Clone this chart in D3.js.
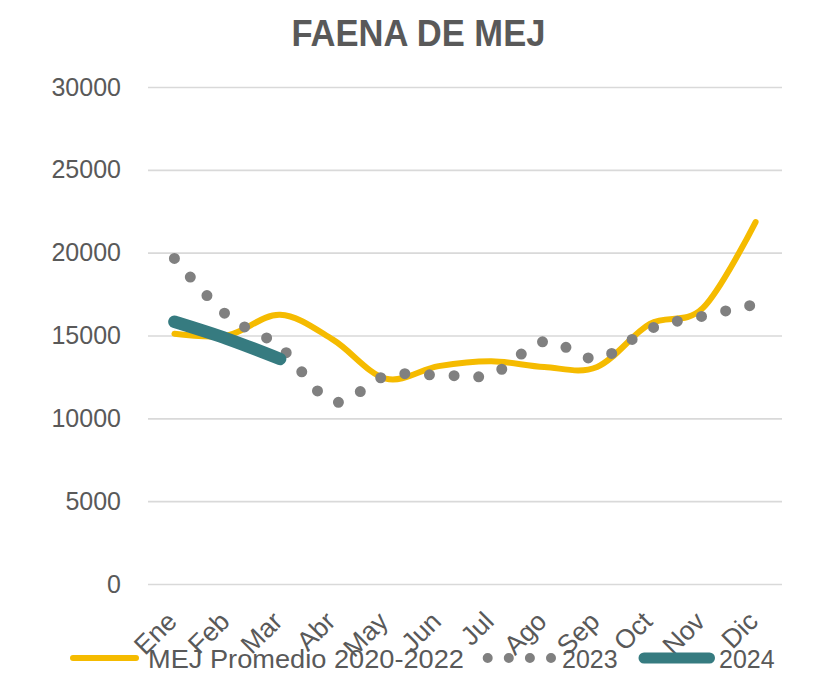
<!DOCTYPE html>
<html>
<head>
<meta charset="utf-8">
<script src="https://cdn.jsdelivr.net/npm/d3@7"></script>
<style>
  html, body { margin: 0; padding: 0; background: #fff; }
  svg { display: block; }
  text { font-family: "Liberation Sans", Arial, sans-serif; fill: #595959; }
</style>
</head>
<body>
<svg id="chart" width="816" height="684"></svg>
<script>
// ---- data ----
const months = ["Ene", "Feb", "Mar", "Abr", "May", "Jun", "Jul", "Ago", "Sep", "Oct", "Nov", "Dic"];
const promedio = [15100, 15000, 16250, 14750, 12400, 13150, 13450, 13100, 13100, 15700, 16650, 21850];
const serie2023 = [19650, 16200, 14310, 11000, 12560, 12620, 12650, 14640, 13600, 15400, 16170, 16880];
const serie2024 = [15830, 14800, 13580];
const yTicks = [0, 5000, 10000, 15000, 20000, 25000, 30000];
const seriesNames = ["MEJ Promedio 2020-2022", "2023", "2024"];
const chartTitle = "FAENA DE MEJ";

// ---- setup ----
const svg = d3.select("#chart");
const W = 816, H = 684;
const pLeft = 148, pRight = 782, pTop = 87, pBottom = 584;
const colors = { prom: "#F5BB00", y23: "#808080", y24: "#367B80", grid: "#D9D9D9", text: "#595959" };

svg.append("rect").attr("width", W).attr("height", H).attr("fill", "#fff");

const x = d3.scaleBand().domain(months).range([pLeft, pRight]).padding(0);
const xc = d => x(d) + x.bandwidth() / 2;
const y = d3.scaleLinear().domain([0, 30000]).range([pBottom, pTop]);

// title
svg.append("text")
  .attr("x", 418.4).attr("y", 45.5)
  .attr("text-anchor", "middle")
  .attr("font-size", 37).attr("font-weight", "bold")
  .attr("textLength", 254).attr("lengthAdjust", "spacingAndGlyphs")
  .text(chartTitle);

// y axis + grid
const yAxis = svg.append("g")
  .attr("transform", `translate(${pLeft},0)`)
  .call(d3.axisLeft(y).tickValues(yTicks).tickFormat(d3.format("d"))
        .tickSize(-(pRight - pLeft)).tickPadding(27));
yAxis.select(".domain").remove();
yAxis.selectAll(".tick line").attr("stroke", colors.grid).attr("stroke-width", 1.6);
yAxis.selectAll(".tick text")
  .attr("font-size", 25).attr("fill", colors.text)
  .style("font-family", "'Liberation Sans', Arial, sans-serif");

// x axis
const xAxis = svg.append("g")
  .attr("transform", `translate(0,${pBottom})`)
  .call(d3.axisBottom(x).tickSize(0).tickPadding(0));
xAxis.select(".domain").remove();
xAxis.selectAll(".tick text")
  .attr("font-size", 26.5).attr("fill", colors.text)
  .style("font-family", "'Liberation Sans', Arial, sans-serif")
  .attr("text-anchor", "end")
  .attr("y", 0).attr("dy", 0)
  .attr("transform", "translate(4,39) rotate(-45)");

// lines
const curve = d3.curveCardinal.tension(0);
const line = d3.line().x((d, i) => xc(months[i])).y(d => y(d)).curve(curve);

svg.append("path").datum(promedio)
  .attr("d", line).attr("fill", "none")
  .attr("stroke", colors.prom).attr("stroke-width", 6)
  .attr("stroke-linecap", "round").attr("stroke-linejoin", "round");

svg.append("path").datum(serie2023)
  .attr("d", line).attr("fill", "none")
  .attr("stroke", colors.y23).attr("stroke-width", 11)
  .attr("stroke-dasharray", "0 24.65")
  .attr("stroke-linecap", "round").attr("stroke-linejoin", "round");

svg.append("path").datum(serie2024)
  .attr("d", line).attr("fill", "none")
  .attr("stroke", colors.y24).attr("stroke-width", 12.5)
  .attr("stroke-linecap", "round").attr("stroke-linejoin", "round");

// legend
const ly = 658;
const lg = svg.append("g");
lg.append("line").attr("x1", 73).attr("x2", 136).attr("y1", ly).attr("y2", ly)
  .attr("stroke", colors.prom).attr("stroke-width", 6).attr("stroke-linecap", "round");
lg.append("text").attr("x", 148).attr("y", ly + 9.5).attr("font-size", 25)
  .attr("textLength", 316).attr("lengthAdjust", "spacingAndGlyphs")
  .text(seriesNames[0]);

lg.append("line").attr("x1", 487.7).attr("x2", 551.5).attr("y1", ly).attr("y2", ly)
  .attr("stroke", colors.y23).attr("stroke-width", 10).attr("stroke-linecap", "round")
  .attr("stroke-dasharray", "0 21.1");
lg.append("text").attr("x", 562).attr("y", ly + 9.5).attr("font-size", 25)
  .text(seriesNames[1]);

lg.append("line").attr("x1", 644).attr("x2", 709.5).attr("y1", ly).attr("y2", ly)
  .attr("stroke", colors.y24).attr("stroke-width", 11).attr("stroke-linecap", "round");
lg.append("text").attr("x", 719).attr("y", ly + 9.5).attr("font-size", 25)
  .text(seriesNames[2]);
</script>
</body>
</html>
